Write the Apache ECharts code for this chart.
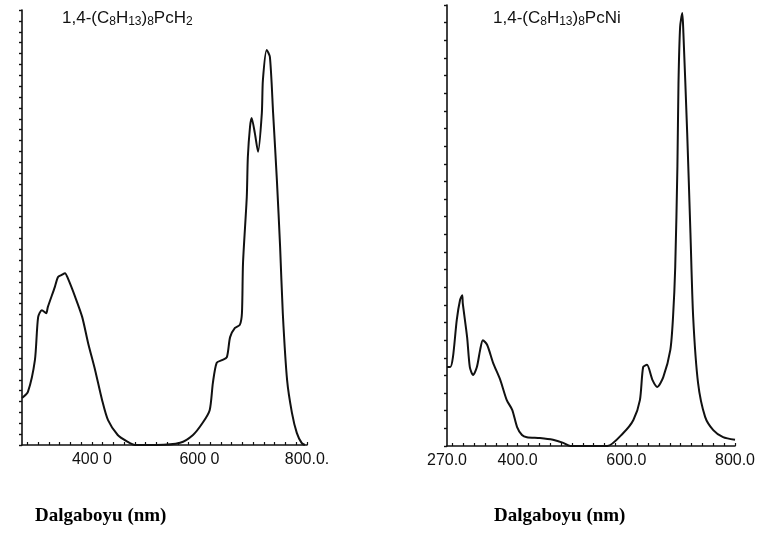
<!DOCTYPE html>
<html><head><meta charset="utf-8">
<script src="https://cdn.jsdelivr.net/npm/echarts@6/dist/echarts.min.js"></script>
<style>html,body{margin:0;padding:0;background:#fff}#c{width:763px;height:533px}</style>
</head><body><div id="c"></div>
<script>
// Left panel: 1,4-(C8H13)8PcH2
const leftNm = [270,281,294,300,307,315,318,331,337,344,350,355,369,382,393,406,419,430,448,467,480,
  520,564,588,606,619,625,632,642,651,657,666,675,679,681,688,690,694,697,703,709,716,718,725,731,737,744,750,755,763,772,781,790,796];
const leftAbs = [0.108,0.122,0.195,0.294,0.310,0.303,0.317,0.363,0.386,0.391,0.395,0.384,0.340,0.294,0.234,0.172,0.103,0.057,0.023,0.007,0.0,
  0.0,0.005,0.023,0.051,0.080,0.143,0.189,0.195,0.202,0.248,0.269,0.276,0.303,0.418,0.570,0.662,0.731,0.752,0.717,0.674,0.763,0.839,0.908,0.892,0.763,0.609,0.455,0.303,0.149,0.074,0.028,0.005,0.0];
// Right panel: 1,4-(C8H13)8PcNi
const rightNm = [270,276,281,288,294,298,299,307,312,318,325,331,336,344,355,368,380,390,399,408,417,441,465,484,497,
  530,565,594,613,625,631,638,648,657,668,681,686,690,694,696,699,703,705,712,718,723,732,745,760,778,800];
const rightAbs = [0.179,0.179,0.202,0.286,0.331,0.342,0.324,0.247,0.179,0.161,0.179,0.218,0.240,0.229,0.188,0.150,0.104,0.082,0.043,0.025,0.020,0.018,0.014,0.007,0.0,
  0.0,0.0,0.029,0.059,0.104,0.179,0.184,0.150,0.134,0.156,0.218,0.293,0.406,0.633,0.823,0.950,0.982,0.937,0.710,0.483,0.293,0.143,0.066,0.036,0.020,0.014];
const leftTickValues = [400,600,800];
const leftTickLabels = ['400 0','600 0','800.0.'];
const rightTickValues = [270,400,600,800];
const rightTickLabels = ['270.0','400.0','600.0','800.0'];
const xAxisTitle = 'Dalgaboyu (nm)';

const minorX = [];
for (let v = 280; v <= 800; v += 20) minorX.push(v);
const pairs = (xs, ys) => xs.map((x, i) => [x, ys[i]]);
const lbl = (vals, labs) => (v) => { const i = vals.indexOf(v); return i >= 0 ? labs[i] : ''; };

const chart = echarts.init(document.getElementById('c'), null, {renderer: 'canvas'});
const rich = {sub: {fontSize: 12, verticalAlign: 'bottom', padding: [8, 0, 0, 0], fontFamily: 'Liberation Sans', color: '#111'}};
const xBase = (vals, labs, gi) => ({
  type: 'value', gridIndex: gi, min: 270, max: 800,
  axisLine: {show: true, lineStyle: {color: '#111', width: 1.6}},
  axisTick: {show: true, customValues: minorX, length: 3, inside: true, lineStyle: {color: '#111', width: 1.2}},
  axisLabel: {customValues: vals, formatter: lbl(vals, labs), color: '#111', fontSize: 16, fontFamily: 'Liberation Sans', margin: 7},
  splitLine: {show: false}
});
const yBase = (gi, interval) => ({
  type: 'value', gridIndex: gi, min: 0, max: 1, interval: interval,
  axisLine: {show: true, lineStyle: {color: '#111', width: 1.6}},
  axisTick: {show: true, length: 3, lineStyle: {color: '#111', width: 1.4}},
  axisLabel: {show: false}, splitLine: {show: false}
});
chart.setOption({
  animation: false,
  backgroundColor: '#fff',
  title: [
    {text: '1,4-(C{sub|8}H{sub|13}){sub|8}PcH{sub|2}', left: 57, top: 3,
     textStyle: {fontSize: 17, fontWeight: 'normal', color: '#111', fontFamily: 'Liberation Sans', rich: rich}},
    {text: '1,4-(C{sub|8}H{sub|13}){sub|8}PcNi', left: 488, top: 3,
     textStyle: {fontSize: 17, fontWeight: 'normal', color: '#111', fontFamily: 'Liberation Sans', rich: rich}},
    {text: xAxisTitle, left: 30, top: 502,
     textStyle: {fontSize: 19, fontWeight: 'bold', color: '#000', fontFamily: 'Liberation Serif'}},
    {text: xAxisTitle, left: 489, top: 502,
     textStyle: {fontSize: 19, fontWeight: 'bold', color: '#000', fontFamily: 'Liberation Serif'}}
  ],
  grid: [
    {left: 22, top: 10, width: 285, height: 435},
    {left: 447, top: 5, width: 288, height: 441}
  ],
  xAxis: [xBase(leftTickValues, leftTickLabels, 0), xBase(rightTickValues, rightTickLabels, 1)],
  yAxis: [yBase(0, 0.025), yBase(1, 0.04)],
  series: [
    {type: 'line', xAxisIndex: 0, yAxisIndex: 0, data: pairs(leftNm, leftAbs), smooth: 0.25, showSymbol: false,
     lineStyle: {color: '#111', width: 2}},
    {type: 'line', xAxisIndex: 1, yAxisIndex: 1, data: pairs(rightNm, rightAbs), smooth: 0.25, showSymbol: false,
     lineStyle: {color: '#111', width: 2}}
  ]
});
</script></body></html>
